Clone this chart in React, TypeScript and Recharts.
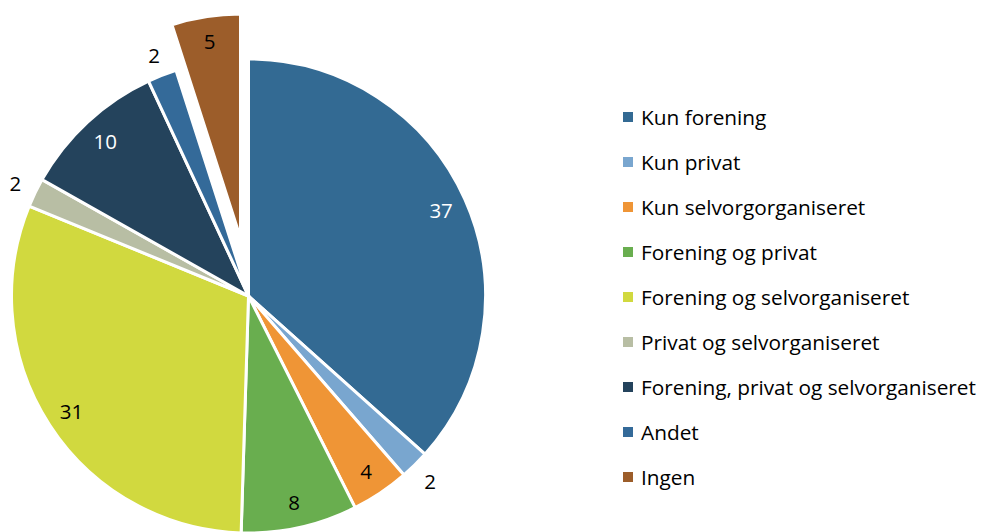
import { PieChart, Pie, Cell, Legend } from 'recharts';

const categories = [
  'Kun forening',
  'Kun privat',
  'Kun selvorgorganiseret',
  'Forening og privat',
  'Forening og selvorganiseret',
  'Privat og selvorganiseret',
  'Forening, privat og selvorganiseret',
  'Andet',
  'Ingen',
];
const values = [37, 2, 4, 8, 31, 2, 10, 2, 5];
const colors = ['#336a93', '#79a6cf', '#ef9536', '#69ae4f', '#d1d93f', '#b8bea4', '#24435c', '#346a99', '#9c5d2a'];
const whiteLabels = ['Kun forening', 'Forening, privat og selvorganiseret'];
const explodedName = 'Ingen';

const data = categories.map((name, i) => ({ name, value: values[i] }));
const RAD = Math.PI / 180;
const FONT = '"Open Sans", sans-serif';

function makeLabel(exploded: boolean) {
  return (props: any) => {
    const { cx, cy, midAngle, outerRadius, value, index } = props;
    const name = categories[index];
    if ((name === explodedName) !== exploded) return null;
    const outside = value <= 2;
    const r = outside ? outerRadius + 22 : outerRadius * 0.89;
    const x = cx + r * Math.cos(-midAngle * RAD);
    const y = cy + r * Math.sin(-midAngle * RAD);
    return (
      <text
        x={x}
        y={y}
        fill={whiteLabels.includes(name) ? '#ffffff' : '#000000'}
        textAnchor="middle"
        dominantBaseline="central"
        fontSize={20.5}
        fontFamily={FONT}
      >
        {value}
      </text>
    );
  };
}

function LegendList() {
  return (
    <div style={{ fontFamily: FONT, fontSize: 20.8, color: '#000' }}>
      {categories.map((name, i) => (
        <div key={name} style={{ display: 'flex', alignItems: 'center', height: 45.1 }}>
          <span style={{ width: 10, height: 10, background: colors[i], marginRight: 8, flex: 'none' }} />
          <span style={{ whiteSpace: 'nowrap' }}>{name}</span>
        </div>
      ))}
    </div>
  );
}

export default function App() {
  return (
    <div style={{ position: 'absolute', left: 0, top: 0, width: 981, height: 532, background: '#fff' }}>
      <PieChart width={981} height={532} margin={{ top: 0, right: 0, bottom: 0, left: 0 }}>
        <Pie
          data={data}
          dataKey="value"
          nameKey="name"
          cx={248.5}
          cy={296}
          outerRadius={237}
          startAngle={90}
          endAngle={-270}
          stroke="#ffffff"
          strokeWidth={3}
          label={makeLabel(false)}
          labelLine={false}
          isAnimationActive={false}
        >
          {data.map((d, i) => (
            <Cell
              key={d.name}
              fill={d.name === explodedName ? 'transparent' : colors[i]}
              stroke={d.name === explodedName ? 'none' : '#ffffff'}
            />
          ))}
        </Pie>
        <Pie
          data={data}
          dataKey="value"
          nameKey="name"
          cx={240.5}
          cy={238}
          outerRadius={224}
          startAngle={90}
          endAngle={-270}
          stroke="#ffffff"
          strokeWidth={3}
          label={makeLabel(true)}
          labelLine={false}
          isAnimationActive={false}
        >
          {data.map((d, i) => (
            <Cell
              key={d.name}
              fill={d.name === explodedName ? colors[i] : 'transparent'}
              stroke={d.name === explodedName ? '#ffffff' : 'none'}
            />
          ))}
        </Pie>
        <Legend
          layout="vertical"
          content={() => <LegendList />}
          wrapperStyle={{ position: 'absolute', left: 623, top: 94, width: 370 }}
        />
      </PieChart>
    </div>
  );
}
